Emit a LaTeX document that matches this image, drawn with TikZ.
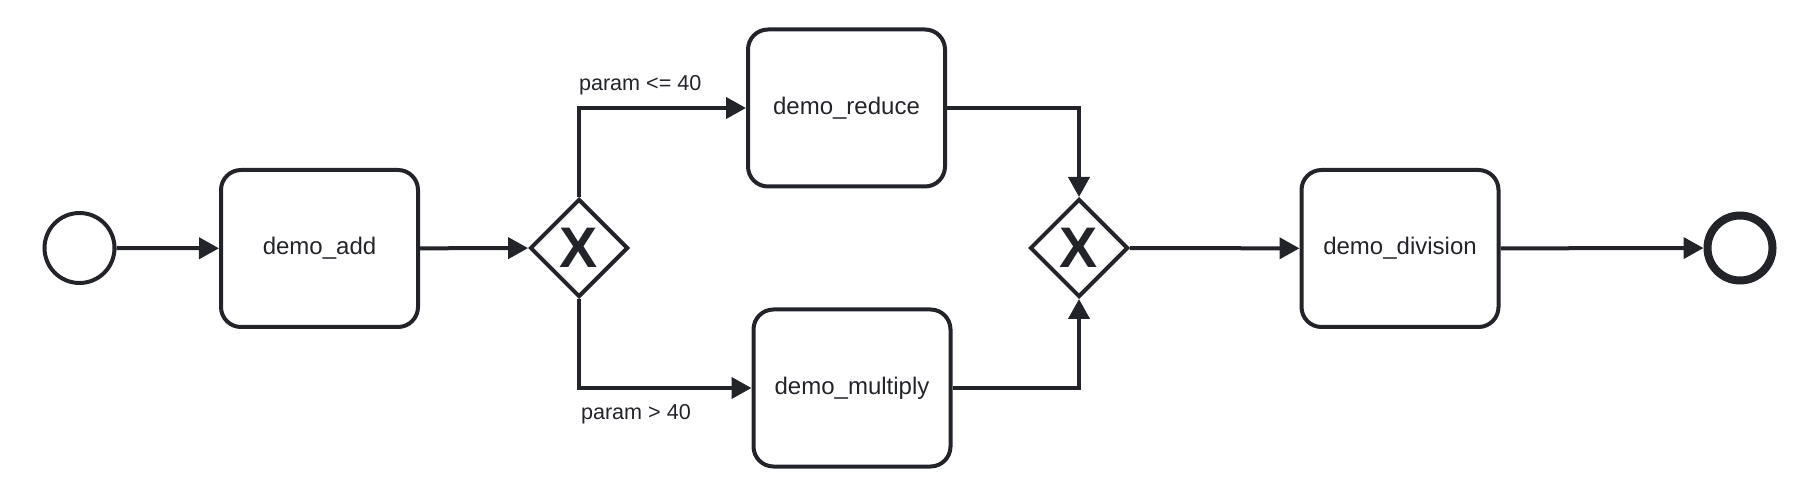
\documentclass[tikz,border=0pt]{standalone}
\usepackage{fontspec}
\setmainfont{Liberation Sans}
\usetikzlibrary{shapes.geometric,arrows.meta}
\definecolor{ink}{RGB}{34,36,42}

\begin{document}
\begin{tikzpicture}[x=0.5pt,y=-0.5pt]
% size of each task
\def\tw{98.5pt}
\def\th{78.5pt}
% node style definition
\tikzstyle{task} = [
	draw=ink, line width=2pt, rectangle, rounded corners=10pt,
	minimum width=\tw, minimum height=\th,
	text=ink, font=\fontsize{12}{14}\selectfont ];
\tikzstyle{event} = [draw=ink, line width=2pt, circle, inner sep=0pt, minimum size=35pt];
\tikzstyle{gate} = [
	draw=ink, line width=2pt, diamond, inner sep=0pt, minimum size=49pt,
	text=ink, font=\fontsize{28.6}{30}\selectfont\bfseries ];
\tikzstyle{flow} = [draw=ink, line width=2pt, -{Triangle[length=10pt,width=10.5pt]}];
\tikzstyle{cond} = [text=ink, font=\fontsize{10.8}{12}\selectfont, inner sep=0pt];
% page size
\useasboundingbox (0,0) rectangle (1808,496);
% events and gateways
\node[event] (start) at (79.5,248) {};
\node[event, line width=4pt, minimum size=32.5pt] (end) at (1740,248) {};
\node[gate] (split) at (579,248) {X};
\node[gate] (join) at (1079,248) {X};
% tasks
\node[task] (add) at (319.5,248.5) {demo\_add};
\node[task] (reduce) at (846.5,108) {demo\_reduce};
\node[task] (multiply) at (852,388) {demo\_multiply};
\node[task] (division) at (1400,248.5) {demo\_division};
% sequence flows
\draw[flow] (start) -- (add);
\draw[flow] (add) -- (split);
\draw[flow] (split) |- (reduce)
	node[cond, pos=0.5, anchor=south west, xshift=-1pt, yshift=5.3pt] (le40) {param <= 40};
\draw[flow] (split) |- (multiply)
	node[cond, pos=0.5, anchor=north west, yshift=-7pt] (gt40) {param > 40};
\draw[flow] (reduce) -| (join);
\draw[flow] (multiply) -| (join);
\draw[flow] (join) -- (division);
\draw[flow] (division) -- (end);
\end{tikzpicture}
\end{document}
